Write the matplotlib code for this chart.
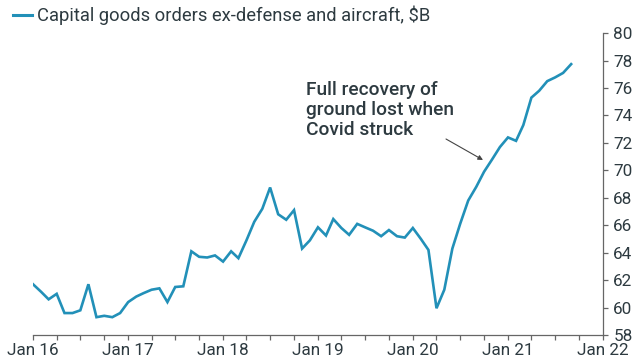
import numpy as np
import pandas as pd
import matplotlib
matplotlib.use("Agg")
import matplotlib.pyplot as plt
import matplotlib.dates as mdates

# Capital goods orders ex-defense and aircraft, $B (monthly, Jan 2016 - Sep 2021)
fechas = pd.date_range("2016-01-01", periods=69, freq="MS")
pedidos = [
    61.7, 61.15, 60.6, 61.0, 59.6, 59.6, 59.8, 61.7, 59.3, 59.4, 59.3, 59.6,
    60.4, 60.8, 61.05, 61.3, 61.4, 60.4, 61.5, 61.55, 64.1, 63.7, 63.65, 63.8,
    63.35, 64.1, 63.6, 64.9, 66.25, 67.2, 68.75, 66.8, 66.4, 67.1, 64.3, 64.9,
    65.85, 65.25, 66.45, 65.8, 65.3, 66.1, 65.85, 65.6, 65.2, 65.65, 65.2, 65.1,
    65.8, 65.0, 64.2, 59.95, 61.3, 64.3, 66.1, 67.8, 68.8, 69.9, 70.8, 71.7,
    72.4, 72.15, 73.3, 75.3, 75.8, 76.5, 76.77, 77.1, 77.74,
]
etiqueta = "Capital goods orders ex-defense and aircraft, $B"
nota = "Full recovery of\nground lost when\nCovid struck"

color_linea = "#2290b8"
color_texto = "#2d3a40"
color_eje = "#666666"
plt.rcParams["font.family"] = ["Roboto", "DejaVu Sans"]

fig = plt.figure(figsize=(6.4, 3.6), dpi=100)
ax = fig.add_axes([0.0516, 0.0694, 0.8904, 0.8386])
ax.plot(fechas, pedidos, color=color_linea, lw=1.9, solid_joinstyle="miter")

ax.set_xlim(pd.Timestamp("2016-01-01"), pd.Timestamp("2022-01-01"))
ax.set_ylim(58, 80)
ax.set_yticks(np.arange(58, 81, 2))
ax.yaxis.tick_right()

ax.xaxis.set_major_locator(mdates.YearLocator())
ax.xaxis.set_minor_locator(mdates.MonthLocator(bymonth=[4, 7, 10]))
ax.xaxis.set_major_formatter(mdates.DateFormatter("Jan %y"))

for lado in ["top", "left"]:
    ax.spines[lado].set_visible(False)
for lado in ["bottom", "right"]:
    ax.spines[lado].set_color(color_eje)
    ax.spines[lado].set_linewidth(0.9)

ax.tick_params(axis="x", which="both", direction="out", length=3.5, width=0.9,
               color=color_eje, labelsize=12.3, labelcolor=color_texto, pad=2.5)
ax.tick_params(axis="y", direction="out", length=3.5, width=0.9, color=color_eje,
               labelsize=12.3, labelcolor=color_texto, pad=4)
# la etiqueta 58 sube un poco para no pisar "Jan 22"
ax.get_yticklabels()[0].set_va("center_baseline")

# leyenda
fig.add_artist(plt.Line2D([0.020, 0.050], [0.958, 0.958], color=color_linea, lw=2.2))
fig.text(0.058, 0.958, etiqueta, fontsize=13.2, color=color_texto, va="center", ha="left")

# anotación
fig.text(0.478, 0.776, nota, fontsize=13.8, color=color_texto, ha="left", va="top",
         linespacing=1.15, fontweight="medium")
ax.annotate("", xy=(483 / 640, 1 - 160 / 360), xycoords="figure fraction",
            xytext=(446 / 640, 1 - 139 / 360), textcoords="figure fraction",
            arrowprops=dict(arrowstyle="-|>", color="#444444", lw=0.8,
                            mutation_scale=7, shrinkA=0, shrinkB=0))

fig.savefig("out.png", dpi=100, facecolor="white")
